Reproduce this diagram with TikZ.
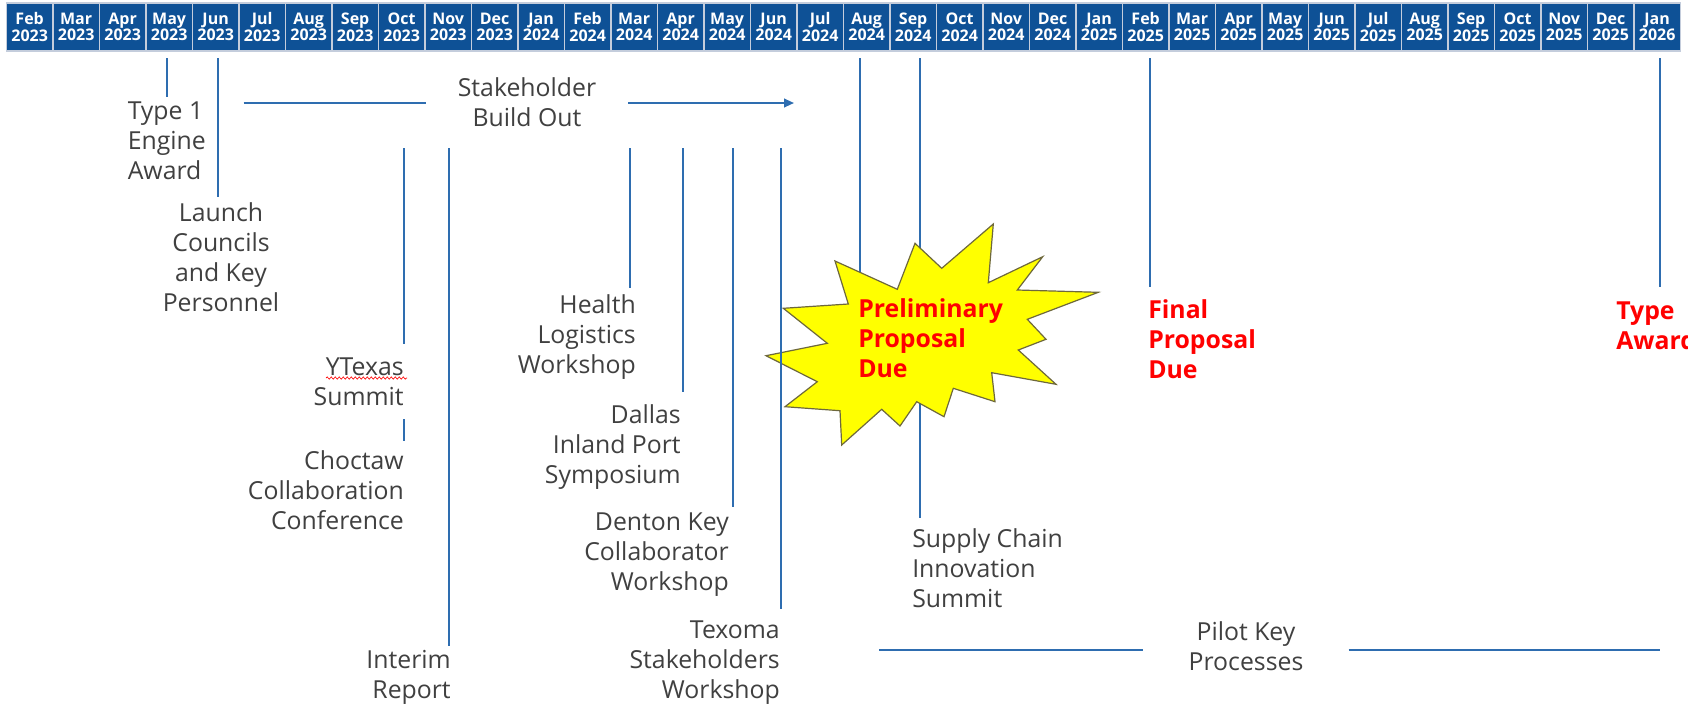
\documentclass[tikz,border=0pt]{standalone}
\usepackage{fontspec}
\setmainfont{Open Sans}
\usepackage{xcolor}
\usetikzlibrary{arrows.meta,decorations.pathmorphing}

\definecolor{monthblue}{RGB}{14,81,150}
\definecolor{monthrule}{RGB}{196,205,220}
\definecolor{tickblue}{RGB}{46,109,176}
\definecolor{labelgray}{RGB}{64,64,64}
\definecolor{burstfill}{RGB}{255,255,0}
\definecolor{burstline}{RGB}{110,104,60}

\tikzset{
  month/.style={fill=monthblue, draw=monthrule, line width=1.1pt, text=white,
    minimum width=34.875pt, minimum height=36pt, inner sep=0pt, align=center,
    font=\fontsize{12}{12.5}\selectfont\bfseries},
  tickline/.style={draw=tickblue, line width=1.5pt},
  event/.style={text=labelgray, inner sep=0pt, font=\fontsize{18.6}{22.5}\selectfont},
  due/.style={text=red, inner sep=0pt, font=\fontsize{18.6}{22.5}\selectfont\bfseries},
  burst/.style={fill=burstfill, draw=burstline, line width=0.9pt},
  spell/.style={draw=red, line width=0.5pt, decorate,
    decoration={snake, amplitude=0.8pt, segment length=3pt}},
}

\begin{document}
\begin{tikzpicture}[x=0.75pt,y=0.75pt,yscale=-1,xscale=1]
\path[fill=white, use as bounding box] (0,0) rectangle (1688,704);

%Month strip
\foreach \mon/\yr [count=\i from 0] in {Feb/2023,Mar/2023,Apr/2023,May/2023,Jun/2023,Jul/2023,Aug/2023,Sep/2023,Oct/2023,Nov/2023,Dec/2023,Jan/2024,Feb/2024,Mar/2024,Apr/2024,May/2024,Jun/2024,Jul/2024,Aug/2024,Sep/2024,Oct/2024,Nov/2024,Dec/2024,Jan/2025,Feb/2025,Mar/2025,Apr/2025,May/2025,Jun/2025,Jul/2025,Aug/2025,Sep/2025,Oct/2025,Nov/2025,Dec/2025,Jan/2026}
  \node[month] (c\i) at ({29.65+46.5*\i},27) {\mon\\\yr};

%Tick tops
\coordinate (may23) at (167,58);
\coordinate (jun23) at (218,58);
\coordinate (aug24) at (860,58);
\coordinate (sep24) at (920,58);
\coordinate (feb25) at (1150,58);
\coordinate (jan26) at (1660,58);
\coordinate (oct23) at (404,148);
\coordinate (choc) at (404,419);
\coordinate (nov23) at (448.5,148);
\coordinate (mar24) at (630,148);
\coordinate (apr24) at (682.7,148);
\coordinate (may24) at (732.7,148);
\coordinate (jun24) at (781,148);

%Straight Lines
\draw[tickline] (may23) -- ++(0,39);
\draw[tickline] (jun23) -- ++(0,139);
\draw[tickline] (aug24) -- ++(0,250);
\draw[tickline] (sep24) -- ++(0,460);
\draw[tickline] (feb25) -- ++(0,229);
\draw[tickline] (jan26) -- ++(0,229);
\draw[tickline] (oct23) -- ++(0,196);
\draw[tickline] (choc) -- ++(0,22);
\draw[tickline] (nov23) -- ++(0,498);
\draw[tickline] (mar24) -- ++(0,140);
\draw[tickline] (apr24) -- ++(0,244);
\draw[tickline] (may24) -- ++(0,359);

%Shape: Explosion
\draw[burst] (915,243.3) -- (941.7,268.3) -- (993.3,224) -- (988.3,282.7) -- (1042.7,256.7) -- (1017.3,290) -- (1098.3,292.3) -- (1027.3,319.3) -- (1046,339.3) -- (1018.3,350) -- (1056,384.3) -- (991.7,372.7) -- (995,401.7) -- (953.3,388.3) -- (944,416.7) -- (916.7,401.7) -- (900,426) -- (881.7,409.3) -- (841.7,445) -- (840,410.7) -- (785,406.7) -- (817.3,381.7) -- (766,355.7) -- (827.3,343.3) -- (783.3,308.3) -- (848.3,304) -- (835,261) -- (897.3,289.3) -- cycle;

\draw[tickline] (jun24) -- ++(0,461);

% Text Node (placed on the baseline of the last line)
\node[event, anchor=base west, align=left] (award1) at (127.5,179) {Type 1\\Engine\\Award};
% Text Node
\node[event, anchor=base, align=center] (launch) at (221,311.7) {Launch\\Councils\\and Key\\Personnel};
% Text Node
\node[event, anchor=base, align=center, inner xsep=24pt] (build) at (527,126.7) {Stakeholder\\Build Out};
% Text Node
\node[event, anchor=base east, align=right] (ytexas) at (404,405) {YTexas\\Summit};
\draw[spell] (326,378) -- (407,378);
% Text Node
\node[event, anchor=base east, align=right] (choctaw) at (404,529) {Choctaw\\Collaboration\\Conference};
% Text Node
\node[event, anchor=base east, align=right] (interim) at (451,698) {Interim\\Report};
% Text Node
\node[event, anchor=base east, align=right] (health) at (636,373) {Health\\Logistics\\Workshop};
% Text Node
\node[event, anchor=base east, align=right] (dallas) at (681,483) {Dallas\\Inland Port\\Symposium};
% Text Node
\node[event, anchor=base east, align=right] (denton) at (729,590) {Denton Key\\Collaborator\\Workshop};
% Text Node
\node[event, anchor=base east, align=right] (texoma) at (780,698) {Texoma\\Stakeholders\\Workshop};
% Text Node
\node[event, anchor=base west, align=left] (supply) at (912,607) {Supply Chain\\Innovation\\Summit};
% Text Node
\node[event, anchor=base, align=center, inner xsep=33.75pt] (pilot) at (1246,670.7) {Pilot Key\\Processes};
% Text Node
\node[due, anchor=base west, align=left] (prelim) at (858,377) {Preliminary\\Proposal\\Due};
% Text Node
\node[due, anchor=base west, align=left] (final) at (1148,378) {Final\\Proposal\\Due};
% Text Node
\node[due, anchor=base west, align=left] (award2) at (1616,349) {Type\\Award};

%Build out and pilot spans
\coordinate (buildL) at (243.6,103);
\coordinate (buildR) at (794,103);
\draw[tickline] (buildL) -- (buildL -| build.west);
\draw[tickline, -{Triangle[length=7.5pt,width=6.5pt]}] (build.east |- buildR) -- (buildR);
\coordinate (pilotL) at (879,650);
\coordinate (pilotR) at (1660,650);
\draw[tickline] (pilotL) -- (pilotL -| pilot.west);
\draw[tickline] (pilot.east |- pilotR) -- (pilotR);

\end{tikzpicture}
\end{document}
